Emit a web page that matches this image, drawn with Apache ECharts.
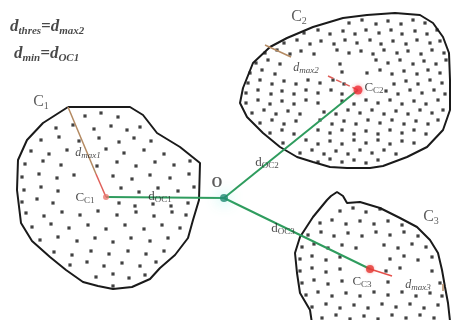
<!DOCTYPE html>
<html><head><meta charset="utf-8">
<script src="https://cdn.jsdelivr.net/npm/echarts@6/dist/echarts.min.js"></script>
<style>html,body{margin:0;padding:0;background:#fff}#c{width:451px;height:320px}</style>
</head><body><div id="c"></div>
<script>
// ---- data (diagram coordinates, y grows downward) ----
const O = [224,198];
const center1 = [106,197];
const center2 = [358,90];
const center3 = [370,269];

const boundary1 = [[68,107],[130,107],[143,115],[157,133],[180,147],[200,163],[199,200],[193,220],[188,238],[175,255],[160,268],[150,279],[132,287],[113,289],[98,286],[83,282],[66,270],[50,257],[32,241],[21,223],[17,190],[18,160],[27,140],[43,123],[68,107]];
const boundary2 = [[243,88],[253,63],[270,47],[287,38],[313,27],[343,18],[367,15],[395,13],[420,15],[433,23],[443,37],[449,53],[450,80],[450,110],[443,130],[427,147],[407,157],[383,166],[370,168],[347,168],[330,167],[313,162],[297,157],[280,147],[263,133],[247,117],[240,103],[243,88]];
const boundary3 = [[327,200],[331,196],[337,192],[343,196],[347,203],[360,202],[380,208],[400,218],[417,227],[430,240],[438,253],[442,270],[445,287],[448,303],[451,330],[313,330],[310,310],[300,293],[297,273],[295,253],[300,237],[313,217],[327,200]];

const dots1 = [[85,116],[101,113],[118,117],
[56,128],[73,125],[94,129],[111,126],[127,130],[140,127],
[41,140],[59,137],[79,141],[99,138],[119,142],[134,138],[151,141],
[31,151],[49,154],[67,150],[106,149],[124,153],[144,150],[164,154],
[25,164],[43,161],[61,165],[97,166],[117,162],[136,166],[155,162],[174,165],[190,161],
[22,177],[39,174],[57,178],[74,175],[113,176],[132,179],[150,175],[170,178],[189,174],
[24,190],[41,187],[58,191],[121,188],[139,192],[158,188],[178,191],[194,187],
[22,202],[37,199],[53,203],[119,203],[135,206],[153,204],[171,206],[188,203],
[26,213],[44,216],[62,212],[80,215],[98,211],[117,215],[136,212],[154,216],[172,212],[186,215],
[32,227],[51,224],[69,228],[88,225],[106,229],[125,225],[144,229],[162,225],[180,228],
[40,240],[58,237],[77,241],[95,238],[113,242],[131,238],[150,241],[168,238],
[54,252],[72,255],[91,251],[109,254],[128,251],[146,254],[164,251],
[70,265],[87,262],[104,266],[122,263],[140,266],[156,262],
[96,277],[113,274],[129,278],[145,275],[113,286]];

const dots2 = [[349,23],[362,20],[376,24],[388,21],[401,24],[413,20],[425,23],
[304,33],[318,30],[330,34],[343,31],[355,34],[366,30],[379,33],[391,30],[402,34],[415,31],[427,34],[437,30],
[284,43],[297,40],[310,44],[321,41],[334,44],[345,40],[357,43],[370,40],[381,44],[393,41],[406,44],[417,40],[430,43],[440,41],
[265,53],[277,50],[290,54],[301,51],[314,54],[337,50],[349,53],[361,51],[373,54],[384,50],[397,53],[408,51],[421,54],[432,50],[444,53],
[256,63],[268,60],[280,64],[340,64],[376,60],[388,63],[400,60],[413,64],[424,61],[436,64],[446,60],
[250,73],[262,70],[275,74],[342,72],[367,73],[380,70],[392,74],[404,71],[417,74],[428,70],[440,73],
[248,83],[260,80],[272,84],[284,81],[296,84],[308,80],[320,83],[333,80],[344,84],[394,84],[406,81],[418,84],[430,80],[442,83],
[246,93],[258,90],[271,94],[282,91],[294,94],[306,90],[318,93],[331,90],[342,94],[386,91],[398,94],[410,90],[422,93],[434,90],[445,94],
[246,103],[258,100],[270,104],[282,101],[294,104],[306,100],[318,103],[342,101],[354,104],[366,100],[378,103],[390,100],[402,104],[414,101],[426,104],[438,100],
[252,113],[264,110],[276,114],[288,111],[300,114],[324,112],[336,114],[348,110],[360,113],[372,110],[384,114],[396,111],[408,114],[420,110],[432,113],[443,110],
[260,123],[272,120],[284,124],[296,121],[320,120],[332,124],[344,121],[356,124],[368,120],[380,123],[392,120],[404,124],[416,121],[428,124],[438,120],
[270,133],[282,130],[294,134],[318,130],[330,133],[342,130],[354,134],[366,131],[378,134],[390,130],[402,133],[414,130],[426,134],
[283,143],[306,140],[318,144],[330,141],[342,144],[354,140],[366,143],[378,140],[390,144],[402,141],[414,143],
[300,153],[312,150],[324,154],[336,151],[348,154],[360,150],[372,153],[384,150],[396,154],
[318,162],[330,159],[342,162],[354,160],[366,163],[378,160]];

const dots3 = [[340,211],[353,208],[366,212],[380,209],
[320,223],[332,220],[346,224],[360,221],[374,224],[388,221],[402,225],
[308,235],[321,232],[334,236],[348,233],[362,236],[376,232],[390,235],[404,232],[418,236],
[302,247],[314,244],[328,248],[342,245],[356,248],[384,245],[398,248],[412,244],[426,247],
[300,259],[312,256],[326,260],[340,257],[390,259],[404,256],[418,260],[432,257],
[300,271],[312,268],[326,272],[340,269],[386,271],[400,268],[432,271],
[302,283],[314,280],[328,284],[342,281],[388,282],[440,283],
[306,295],[318,292],[332,296],[346,293],[360,296],[374,292],[388,295],[402,292],[416,296],[430,293],[442,296],
[312,307],[326,304],[340,308],[354,305],[368,308],[382,304],[396,307],[410,304],[424,308],[438,305],
[322,318],[336,315],[350,319],[364,316],[378,319],[392,315],[406,318],[420,315],[434,318]];

const dmax1Brown = [[68,107],[96,174]];
const dmax1Red = [[96,174],[106,197]];
const dmax2Brown = [[265,45],[291,57]];
const dmax2Red = [[328,76],[358,90]];
const dmax3Red = [[370,269],[392,276]];
const dmax3Tick = [[443,284],[443,291]];

// labels: [x, y, rich text, align]
const labels = [
  [41,102,'{cm|C}{cs|1}','center'],
  [299,17,'{cm|C}{cs|2}','center'],
  [431,217,'{cm|C}{cs|3}','center'],
  [85,198,'{m|C}{s|C1}','center'],
  [374,88,'{m|C}{s|C2}','center'],
  [362,282,'{m|C}{s|C3}','center'],
  [160,197,'{m|d}{s|OC1}','center'],
  [267,163,'{m|d}{s|OC2}','center'],
  [283,229,'{m|d}{s|OC3}','center'],
  [88,153,'{im|d}{is|max1}','center'],
  [306,68,'{im|d}{is|max2}','center'],
  [418,285,'{im|d}{is|max3}','center'],
  [217,183,'{o|O}','center'],
  [10,27,'{fm|d}{fs|thres}{fm|=d}{fs|max2}','left'],
  [14,54,'{fm|d}{fs|min}{fm|=d}{fs|OC1}','left']
];

const F = 'Liberation Serif';
const rich = {
  cm:{fontFamily:F,fontSize:16,color:'#333'},
  cs:{fontFamily:F,fontSize:10,color:'#333',padding:[8,0,0,0]},
  m:{fontFamily:F,fontSize:13,color:'#222'},
  s:{fontFamily:F,fontSize:9,color:'#222',padding:[6,0,0,0]},
  im:{fontFamily:F,fontSize:12,fontStyle:'italic',color:'#222'},
  is:{fontFamily:F,fontSize:9,fontStyle:'italic',color:'#222',padding:[6,0,0,0]},
  o:{fontFamily:F,fontSize:14,fontWeight:'bold',color:'#333'},
  fm:{fontFamily:F,fontSize:17,fontStyle:'italic',fontWeight:'bold',color:'#1a1a1a'},
  fs:{fontFamily:F,fontSize:11,fontStyle:'italic',fontWeight:'bold',color:'#1a1a1a',padding:[8,0,0,0]}
};

const chart = echarts.init(document.getElementById('c'));
function poly(d){return {type:'line',data:d,symbol:'none',clip:true,z:3,lineStyle:{color:'#1a1a1a',width:2},silent:true};}
function seg(d,color,w,type,z){return {type:'line',data:d,symbol:'none',z:z||5,lineStyle:{color:color,width:w,type:type||'solid'},silent:true};}
function dotSeries(d){return {type:'scatter',data:d,symbol:'rect',symbolSize:3.2,itemStyle:{color:'#111'},z:2,silent:true};}
const green = '#2f9c5e';
chart.setOption({
  animation:false,
  grid:{left:0,right:0,top:0,bottom:0},
  xAxis:{type:'value',min:0,max:451,show:false},
  yAxis:{type:'value',min:0,max:320,inverse:true,show:false},
  series:[
    dotSeries(dots1),dotSeries(dots2),dotSeries(dots3),
    poly(boundary1),poly(boundary2),poly(boundary3),
    seg([O,center1],green,2),seg([O,center2],green,2),seg([O,center3],green,2),
    seg(dmax1Brown,'#b48a62',1.5),seg(dmax1Red,'#e0605a',1.5),
    seg(dmax2Brown,'#b48a62',1.5),seg(dmax2Red,'#e0605a',1.5,'dashed'),
    seg(dmax3Red,'#e5504a',1.5),seg(dmax3Tick,'#b48a62',1.5),
    {type:'scatter',data:[O],symbolSize:8,z:6,itemStyle:{color:'#1f8a72',shadowBlur:14,shadowColor:'rgba(90,235,215,0.95)'},silent:true},
    {type:'scatter',data:[center1],symbolSize:6,z:7,itemStyle:{color:'#e87870'},silent:true},
    {type:'scatter',data:[center2],symbolSize:9,z:7,itemStyle:{color:'#f0303a',shadowBlur:4,shadowColor:'rgba(240,60,60,0.6)'},silent:true},
    {type:'scatter',data:[center3],symbolSize:8,z:7,itemStyle:{color:'#e53a34',shadowBlur:3,shadowColor:'rgba(240,60,60,0.5)'},silent:true},
    {type:'scatter',symbolSize:0,z:10,silent:true,
     data:labels.map(l=>({value:[l[0],l[1]],label:{show:true,position:[0,0],align:l[3],verticalAlign:'middle',formatter:l[2],rich:rich}}))}
  ]
});
</script></body></html>
